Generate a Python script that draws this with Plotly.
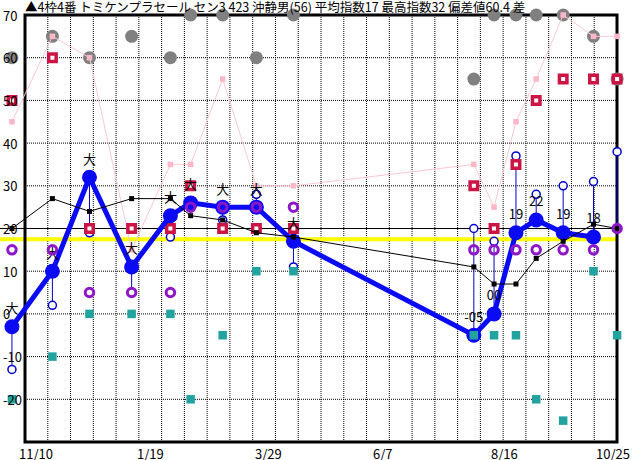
import pandas as pd
import plotly.graph_objects as go

FONT = "Noto Sans CJK JP"

# ── data ─────────────────────────────────────────────────
race_dates = ["2023-11-07", "2023-12-01", "2023-12-23", "2024-01-17", "2024-02-09",
              "2024-02-21", "2024-03-11", "2024-03-31", "2024-04-22", "2024-08-07",
              "2024-08-19", "2024-09-01", "2024-09-13", "2024-09-29", "2024-10-17",
              "2024-10-31"]
main_idx   = [-3, 10, 32, 11, 23, 26, 25, 25, 17, -5, 0, 19, 22, 19, 18, None]
main_text  = ["大", "大", "大", "大", "大", "大", "大", "大", "大",
              "-05", "00", "19", "22", "19", "18", ""]
open_idx   = [-13, 2, 19, 5, 18, 25, 22, 28, 11, 20, 17, 37, 28, 30, 31, 38]
black_idx  = [20, 27, 24, 27, 27, 23, 22, 19, 18, 11, 7, 7, 13, 17, 21, 20]
red_idx    = [50, 60, 20, 20, 20, 30, 20, 20, 20, 30, 20, 35, 50, 55, 55, 55]
pink_idx   = [45, 65, 60, 15, 35, 35, 55, 30, 30, 35, 25, 45, 55, 70, 65, 65]
gray_idx   = [60, 65, 60, 65, 60, 70, 70, 60, 70, 55, 70, 70, 70, 70, 65, 55]
purple_idx = [15, 15, 5, 5, 5, 25, 25, 25, 25, 15, 15, 15, 15, 15, 15, 20]
teal_idx   = [-20, -10, 0, 0, 0, -20, -5, 10, 10, -5, -5, -5, -20, -25, 10, -5]

avg_idx  = 17.5
base_idx = 20

x_tick_dates = ["2023-11-10", "2024-01-19", "2024-03-29", "2024-06-07", "2024-08-16", "2024-10-25"]
x_tick_text  = ["11/10", "1/19", "3/29", "6/7", "8/16", "10/25"]
y_ticks      = [70, 60, 50, 40, 30, 20, 10, 0, -10, -20]

title = "▲4枠4番 トミケンプラセール セン3 423 沖静男(56) 平均指数17 最高指数32 偏差値60.4 差"

# ── geometry (pixels of the 632x460 canvas) ──────────────
W, H = 632, 460
FRAME_L, FRAME_R = 25, 617
DAY_PX = 118 / 70            # 70 days between date labels
T0, T0_PX = pd.Timestamp(x_tick_dates[0]), 17
x_range = [T0 - pd.Timedelta(days=T0_PX / DAY_PX),
           T0 + pd.Timedelta(days=(W - T0_PX) / DAY_PX)]

dates = pd.to_datetime(race_dates)

# thin connector: filled point (or black value when no result yet) to open circle
conn_x, conn_y = [], []
for d, lo, hi, b in zip(dates, main_idx, open_idx, black_idx):
    conn_x += [d, d, None]
    conn_y += [lo if lo is not None else b, hi, None]

fig = go.Figure()

fig.add_trace(go.Scatter(x=dates, y=gray_idx, mode="markers", cliponaxis=False,
                         marker=dict(size=13, color="#808080")))
fig.add_trace(go.Scatter(x=dates, y=pink_idx, mode="lines+markers", cliponaxis=False,
                         line=dict(color="#FFC8D2", width=1),
                         marker=dict(symbol="square", size=5.5, color="#FFB6C6")))
fig.add_trace(go.Scatter(x=conn_x, y=conn_y, mode="lines",
                         line=dict(color="#0000CC", width=1)))
fig.add_trace(go.Scatter(x=dates, y=open_idx, mode="markers", cliponaxis=False,
                         marker=dict(size=8, color="white",
                                     line=dict(color="#0000CC", width=1.5))))
fig.add_trace(go.Scatter(x=dates, y=red_idx, mode="markers", cliponaxis=False,
                         marker=dict(symbol="square", size=7.5, color="white",
                                     line=dict(color="#CC1445", width=3.5))))
fig.add_trace(go.Scatter(x=dates, y=main_idx, mode="lines+markers+text", cliponaxis=False,
                         text=main_text, textposition="top center",
                         textfont=dict(family=FONT, size=13, color="black"),
                         line=dict(color="#0A0AF5", width=5),
                         marker=dict(size=15, color="#0A0AF5")))
fig.add_trace(go.Scatter(x=dates, y=black_idx, mode="lines+markers",
                         line=dict(color="black", width=1),
                         marker=dict(symbol="square", size=5, color="black")))
fig.add_trace(go.Scatter(x=dates, y=purple_idx, mode="markers", cliponaxis=False,
                         marker=dict(symbol="circle-open", size=8.5, color="#8E18C8",
                                     line=dict(width=3))))
fig.add_trace(go.Scatter(x=dates, y=teal_idx, mode="markers", cliponaxis=False,
                         marker=dict(symbol="square", size=8.5, color="#22A39F")))

# ── frame, dotted grid, reference lines ──────────────────
fl, fr = FRAME_L / W, FRAME_R / W
DOT = "1px,1px"
shapes = []
n_cols = 26
for k in range(1, n_cols):
    gx = (FRAME_L + k * (FRAME_R - FRAME_L) / n_cols) / W
    shapes.append(dict(type="line", xref="paper", yref="paper", x0=gx, x1=gx, y0=0, y1=1,
                       line=dict(color="black", width=1, dash=DOT), layer="below"))
for gy in range(-20, 70, 10):
    shapes.append(dict(type="line", xref="paper", yref="y", x0=fl, x1=fr, y0=gy, y1=gy,
                       line=dict(color="black", width=1, dash=DOT), layer="below"))
shapes.append(dict(type="line", xref="paper", yref="y", x0=0, x1=fr, y0=base_idx, y1=base_idx,
                   line=dict(color="black", width=1), layer="below"))
shapes.append(dict(type="line", xref="paper", yref="y", x0=0, x1=fr, y0=avg_idx, y1=avg_idx,
                   line=dict(color="#FFFF00", width=4), layer="below"))
shapes.append(dict(type="rect", xref="paper", yref="paper", x0=fl, x1=fr, y0=0, y1=1,
                   line=dict(color="black", width=3), layer="below"))

annotations = []
# date labels sit left-aligned at their date; the last one is pushed inside the canvas
for i, (d, t) in enumerate(zip(x_tick_dates, x_tick_text)):
    last = i == len(x_tick_dates) - 1
    annotations.append(dict(
        x=1 if last else d, xref="paper" if last else "x",
        y=-0.026, yref="paper", yanchor="middle",
        xanchor="right" if last else "left",
        text=t, showarrow=False, font=dict(family=FONT, size=13, color="black")))
# value labels on the left, left-aligned at the canvas edge
for v in y_ticks:
    annotations.append(dict(
        x=0, xref="paper", xshift=1, y=v, yref="y", yanchor="middle", xanchor="left",
        text=str(v), showarrow=False, font=dict(family=FONT, size=13, color="black")))

fig.update_layout(
    width=W, height=H,
    margin=dict(l=0, r=0, t=15, b=18),
    paper_bgcolor="white", plot_bgcolor="white",
    showlegend=False,
    hovermode=False,
    font=dict(family=FONT, size=13, color="black"),
    title=dict(text=title, x=FRAME_L / W, xanchor="left", y=1 - 8 / H, yanchor="middle",
               xref="container", yref="container",
               font=dict(family=FONT, size=12.5, color="black")),
    xaxis=dict(type="date", range=x_range, showgrid=False, zeroline=False,
               showticklabels=False, showline=False),
    yaxis=dict(range=[-30, 70], showgrid=False, zeroline=False, showline=False,
               showticklabels=False),
    shapes=shapes,
    annotations=annotations,
)

fig.write_html("out.html", config={"displayModeBar": False},
               post_script="document.body.style.margin='0';")
